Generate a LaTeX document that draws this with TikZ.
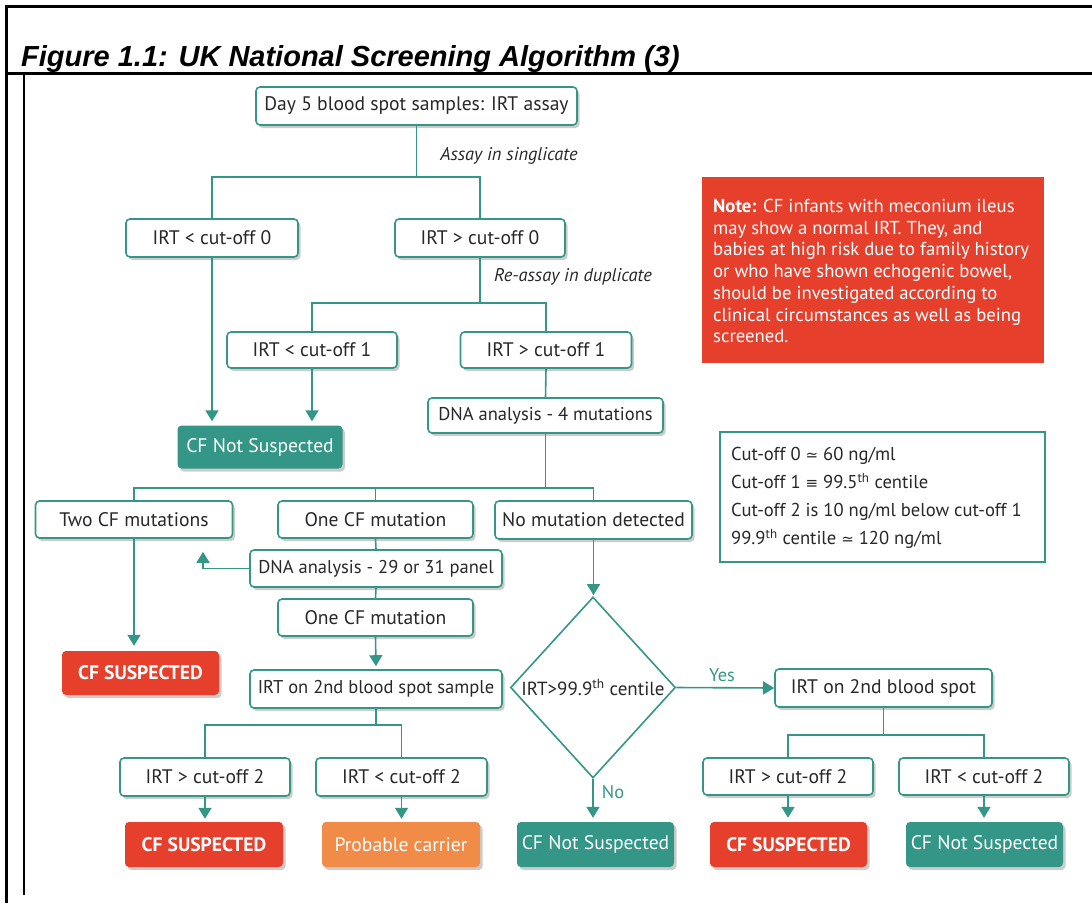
\documentclass[tikz,border=0pt]{standalone}
\usepackage{fontspec}
\setmainfont{PT Sans}
\newfontfamily\titlefont{Liberation Sans}
\newfontfamily\symfont{DejaVu Sans}
\usetikzlibrary{shapes.geometric,arrows.meta,shadows}
\definecolor{flowteal}{RGB}{52,150,135}
\definecolor{alertred}{RGB}{230,64,45}
\definecolor{carrierorange}{RGB}{240,140,72}
\definecolor{ink}{RGB}{40,40,40}
\begin{document}
\begin{tikzpicture}[x=1pt,y=-1pt,
  shadowed/.style={drop shadow={shadow xshift=2.5pt,shadow yshift=-3pt,opacity=0.2,fill=black}},
  box/.style={draw=flowteal,line width=1.6pt,fill=white,rounded corners=4pt,text=ink,
    font=\fontsize{19.6}{22}\selectfont,inner sep=0pt,minimum height=37pt,shadowed},
  widebox/.style={box,font=\fontsize{18.5}{22}\selectfont},
  outcome/.style={rounded corners=4pt,text=white,font=\fontsize{19.6}{22}\selectfont,
    inner sep=0pt,minimum height=45pt,minimum width=157pt,shadowed},
  clear/.style={outcome,fill=flowteal},
  suspect/.style={outcome,fill=alertred,font=\fontsize{19.6}{22}\selectfont\bfseries},
  carrier/.style={outcome,fill=carrierorange},
  conn/.style={draw=flowteal,line width=1.6pt},
  arr/.style={conn,-{Triangle[width=13pt,length=11pt]}},
  lbl/.style={text=ink,font=\fontsize{18.4}{20}\selectfont\itshape,inner sep=0pt},
  yn/.style={text=flowteal,font=\fontsize{18.4}{20}\selectfont,inner sep=0pt}]
\useasboundingbox (0,0) rectangle (1092,903);

% page frame and title row
\draw[line width=3pt] (6,903) -- (6,6) -- (1092,6);
\draw[line width=3pt] (6,73) -- (1092,73);
\draw[line width=1.3pt] (24,74) -- (24,895);
\node[anchor=base west,inner sep=0pt,font=\titlefont\bfseries\itshape\fontsize{29}{32}\selectfont]
  (title) at (21,66) {Figure 1.1: UK National Screening Algorithm (3)};

% split levels
\coordinate (ya) at (0,177);
\coordinate (yb) at (0,303);
\coordinate (yc) at (0,488);
\coordinate (yd) at (0,725);
\coordinate (ye) at (0,735);
\coordinate (kx) at (203,0);

% boxes
\node[box,minimum width=321pt,minimum height=38pt] (day5) at (416.5,106) {Day 5 blood spot samples: IRT assay};
\node[box,minimum width=172pt,minimum height=38pt] (irt0l) at (212,238) {IRT < cut-off 0};
\node[box,minimum width=170pt,minimum height=38pt] (irt0g) at (480,238) {IRT > cut-off 0};
\node[box,minimum width=170pt,minimum height=36pt] (irt1l) at (312,350) {IRT < cut-off 1};
\node[box,minimum width=171pt,minimum height=36pt] (irt1g) at (546,350) {IRT > cut-off 1};
\node[widebox,minimum width=235pt,minimum height=35pt] (dna4) at (545.5,415.5) {DNA analysis - 4 mutations};
\node[clear,minimum width=165pt,minimum height=43pt] (cfns1) at (260,447) {CF Not Suspected};

\node[box,minimum width=197pt] (two) at (134,519.5) {Two CF mutations};
\node[box,minimum width=195pt] (one1) at (375.5,519.5) {One CF mutation};
\node[box,minimum width=197pt,minimum height=38pt] (nomut) at (593.5,520) {No mutation detected};
\node[widebox,minimum width=252pt] (dna29) at (376,568.5) {DNA analysis - 29 or 31 panel};
\node[box,minimum width=195pt] (one2) at (375.5,617.5) {One CF mutation};
\node[widebox,minimum width=252pt,minimum height=38pt] (irt2s) at (376,689) {IRT on 2nd blood spot sample};
\node[suspect,minimum height=44pt] (cfs1) at (140.5,673) {CF SUSPECTED};

\node[box,minimum width=170pt,minimum height=38pt] (irt2gL) at (205,777) {IRT > cut-off 2};
\node[box,minimum width=171pt,minimum height=38pt] (irt2lL) at (401.5,777) {IRT < cut-off 2};
\node[suspect,minimum width=158pt] (cfs2) at (204,844.5) {CF SUSPECTED};
\node[carrier,minimum width=158pt] (prob) at (401,844.5) {Probable carrier};

\node[diamond,draw=flowteal,line width=1.6pt,fill=white,text=ink,inner sep=0pt,
  minimum width=165pt,minimum height=181pt,font=\fontsize{19}{22}\selectfont]
  (dia) at (593,687.5) {IRT>99.9\textsuperscript{th} centile};
\node[box,minimum width=217pt,minimum height=38pt] (irt2b) at (883.5,688) {IRT on 2nd blood spot};
\node[box,minimum width=170pt] (irt2gR) at (788,776.5) {IRT > cut-off 2};
\node[box,minimum width=170pt] (irt2lR) at (984,776.5) {IRT < cut-off 2};
\node[clear] (cfns2) at (595.5,844.5) {CF Not Suspected};
\node[suspect] (cfs3) at (788.5,844.5) {CF SUSPECTED};
\node[clear] (cfns3) at (984.5,844.5) {CF Not Suspected};

% side notes
\node[anchor=north west,fill=alertred,text=white,minimum width=342pt,minimum height=186pt,
  inner sep=0pt] (note) at (702,177) {};
\node[anchor=north west,text=white,align=left,inner sep=0pt,
  font=\fontsize{18.7}{21.7}\selectfont] (notetext) at (713,199)
  {\textbf{Note:} CF infants with meconium ileus\\
   may show a normal IRT. They, and\\
   babies at high risk due to family history\\
   or who have shown echogenic bowel,\\
   should be investigated according to\\
   clinical circumstances as well as being\\
   screened.};
\node[anchor=north west,draw=flowteal,line width=1.5pt,fill=white,minimum width=325pt,
  minimum height=130pt,inner sep=0pt] (cutoffs) at (719,431) {};
\node[anchor=north west,text=ink,align=left,inner sep=0pt,
  font=\fontsize{18.6}{28}\selectfont] (cutofftext) at (731,447)
  {Cut-off 0 {\symfont\fontsize{15}{28}\selectfont ≃} 60 ng/ml\\
   Cut-off 1 {\symfont\fontsize{15}{28}\selectfont ≡} 99.5\textsuperscript{th} centile\\
   Cut-off 2 is 10 ng/ml below cut-off 1\\
   99.9\textsuperscript{th} centile {\symfont\fontsize{15}{28}\selectfont ≃} 120 ng/ml};

% connectors
\draw[conn] (day5.south) -- (day5.south |- ya);
\draw[conn] (irt0l.north) -- (irt0l.north |- ya) -- (irt0g.north |- ya) -- (irt0g.north);
\node[lbl] (assay) at (509,156) {Assay in singlicate};
\draw[arr,shorten >=4pt] (irt0l.south) -- (irt0l.south |- cfns1.north);
\draw[arr,shorten >=4pt] (irt1l.south) -- (irt1l.south |- cfns1.north);
\draw[conn] (irt0g.south) -- (irt0g.south |- yb);
\node[lbl] (reassay) at (573,277) {Re-assay in duplicate};
\draw[conn] (irt1l.north) -- (irt1l.north |- yb) -- (irt1g.north |- yb) -- (irt1g.north);
\draw[conn] (irt1g.south) -- (dna4.north);
\draw[conn] (dna4.south) -- (dna4.south |- yc);
\draw[conn] (two.north) -- (two.north |- yc) -- (nomut.north |- yc) -- (nomut.north);
\draw[conn] (one1.north) -- (one1.north |- yc);
\draw[conn] (one1.south) -- (dna29.north);
\draw[conn] (dna29.south) -- (one2.north);
\draw[arr,shorten >=13pt] (dna29.west) -| (kx |- two.south);
\draw[arr,shorten >=5pt] (two.south) -- (two.south |- cfs1.north);
\draw[arr,shorten >=3pt] (one2.south) -- (irt2s.north);
\draw[conn] (irt2s.south) -- (irt2s.south |- yd);
\draw[conn] (irt2gL.north) -- (irt2gL.north |- yd) -- (irt2lL.north |- yd) -- (irt2lL.north);
\draw[arr,shorten >=3pt] (irt2gL.south) -- (irt2gL.south |- cfs2.north);
\draw[arr,shorten >=3pt] (irt2lL.south) -- (irt2lL.south |- prob.north);
\draw[arr,shorten >=1pt] (nomut.south) -- (nomut.south |- dia.north);
\draw[arr] (dia.east) -- (irt2b.west);
\node[yn] (yes) at (722,675) {Yes};
\draw[arr,shorten >=4pt] (dia.south) -- (dia.south |- cfns2.north);
\node[yn] (no) at (613,792) {No};
\draw[conn] (irt2b.south) -- (irt2b.south |- ye);
\draw[conn] (irt2gR.north) -- (irt2gR.north |- ye) -- (irt2lR.north |- ye) -- (irt2lR.north);
\draw[arr,shorten >=4pt] (irt2gR.south) -- (irt2gR.south |- cfs3.north);
\draw[arr,shorten >=4pt] (irt2lR.south) -- (irt2lR.south |- cfns3.north);
\end{tikzpicture}
\end{document}
